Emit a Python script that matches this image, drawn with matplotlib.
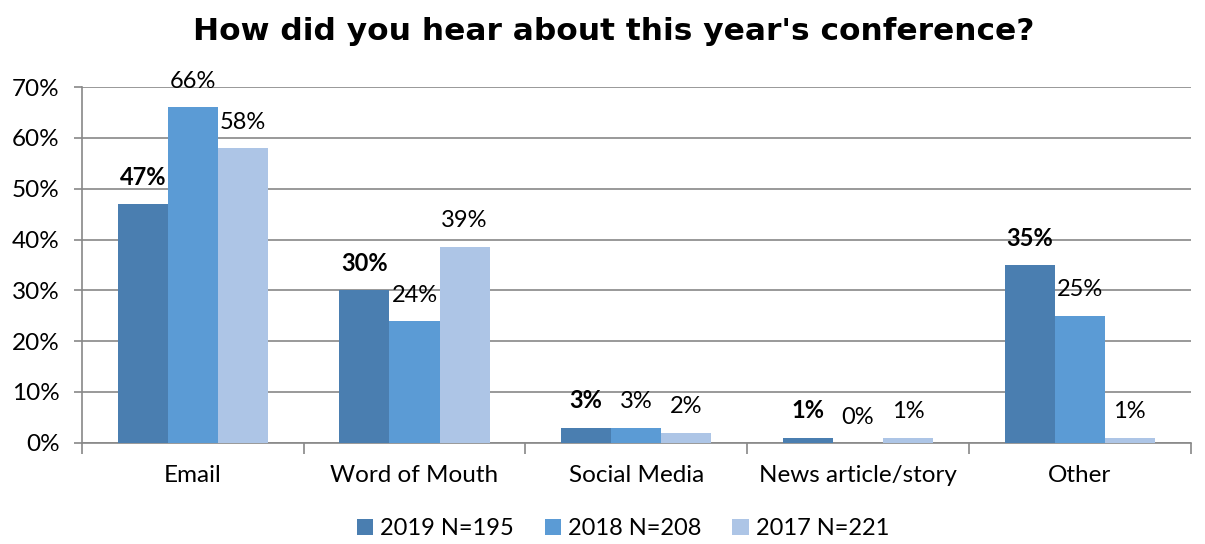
import numpy as np
import matplotlib.pyplot as plt
from matplotlib.ticker import PercentFormatter

plt.rcParams['font.family'] = ['Lato', 'DejaVu Sans']

categories = ['Email', 'Word of Mouth', 'Social Media', 'News article/story', 'Other']
series_names = ['2019 N=195', '2018 N=208', '2017 N=221']
v2019 = [47, 30, 3, 1, 35]
v2018 = [66, 24, 3, 0, 25]
v2017 = [58, 38.6, 2, 1, 1]
colors = ['#4a7eb0', '#5b9bd5', '#adc5e6']

fig = plt.figure(figsize=(12.05, 5.44), dpi=100)
ax = fig.add_axes([0.068, 0.186, 0.92, 0.654])

x = np.arange(len(categories))
w = 0.226
allvals = [v2019, v2018, v2017]
for i, vals in enumerate(allvals):
    pos = x + (i - 1) * w
    ax.bar(pos, vals, width=w, color=colors[i], label=series_names[i], zorder=3)
    for p, v in zip(pos, vals):
        ax.annotate('{:.0f}%'.format(v), (p, v), xytext=(0, 11), textcoords='offset points',
                    ha='center', va='bottom', fontsize=17,
                    fontweight='bold' if i == 0 else 'normal', color='black')

ax.set_xlim(-0.5, len(categories) - 0.5)
ax.set_ylim(0, 70)
ax.set_yticks(range(0, 71, 10))
ax.yaxis.set_major_formatter(PercentFormatter(decimals=0))
ax.set_xticks(x)
ax.set_xticklabels(categories)
ax.set_xticks(np.arange(-0.5, len(categories), 1), minor=True)
ax.tick_params(axis='x', which='major', length=0, pad=16, labelsize=17.5)
ax.tick_params(axis='x', which='minor', length=8, color='#888888', width=1.2)
ax.tick_params(axis='y', length=6, color='#888888', width=1.2, labelsize=17.5, pad=10)
ax.yaxis.grid(True, color='#888888', linewidth=1.2, zorder=0)
for s in ['top', 'right']:
    ax.spines[s].set_visible(False)
for s in ['left', 'bottom']:
    ax.spines[s].set_color('#888888')
    ax.spines[s].set_linewidth(1.2)

fig.text(0.509, 0.942, "How did you hear about this year's conference?",
         ha='center', va='center', fontsize=22.5, fontweight='bold',
         family=['DejaVu Sans'])
fig.legend(loc='center', ncol=3, frameon=False, fontsize=17,
           bbox_to_anchor=(0.517, 0.028), handlelength=0.7, handleheight=0.7,
           columnspacing=1.3, handletextpad=0.3)

fig.savefig('out.png', dpi=100)
